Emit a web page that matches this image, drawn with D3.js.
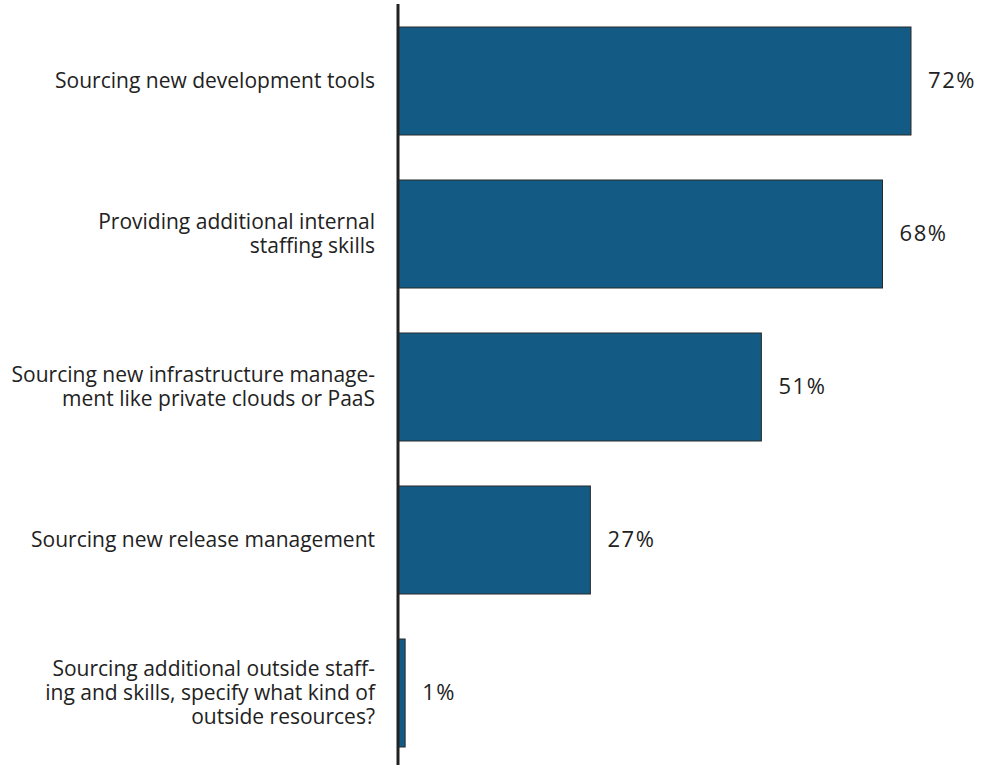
<!DOCTYPE html>
<html>
<head>
<meta charset="utf-8">
<script src="https://cdn.jsdelivr.net/npm/d3@7"></script>
<style>
  html, body { margin: 0; padding: 0; background: #ffffff; }
  svg { display: block; }
  text { font-family: "Open Sans", sans-serif; fill: #222222; }
</style>
</head>
<body>
<svg id="chart" width="982" height="765"></svg>
<script>
// Category labels, one entry per bar, split into display lines
const categories = [
  ["Sourcing new development tools"],
  ["Providing additional internal", "staffing skills"],
  ["Sourcing new infrastructure manage-", "ment like private clouds or PaaS"],
  ["Sourcing new release management"],
  ["Sourcing additional outside staff-", "ing and skills, specify what kind of", "outside resources?"]
];
// Share of respondents (%)
const values = [72, 68, 51, 27, 1];

const svg = d3.select("#chart");
const axisX = 398;

const x = d3.scaleLinear().domain([0, 100]).range([axisX, axisX + 712.5]);
const y = d3.scaleBand()
  .domain(d3.range(values.length))
  .range([4.5, 769.5])
  .paddingInner(0.294)
  .paddingOuter(0.147);

// Bars
svg.append("g").selectAll("rect")
  .data(values)
  .join("rect")
  .attr("x", x(0))
  .attr("y", (d, i) => y(i))
  .attr("width", d => x(d) - x(0))
  .attr("height", y.bandwidth())
  .attr("fill", "#135a85")
  .attr("stroke", "#2b2b2b")
  .attr("stroke-width", 1);

// Value labels
svg.append("g").selectAll("text")
  .data(values)
  .join("text")
  .attr("x", d => x(d) + 17)
  .attr("y", (d, i) => y(i) + y.bandwidth() / 2)
  .attr("dy", "0.3em")
  .attr("font-size", 22)
  .attr("letter-spacing", 1.6)
  .text(d => d + "%");

// Category labels, right-aligned against the axis
const lineH = 24;
const labels = svg.append("g").selectAll("text")
  .data(categories)
  .join("text")
  .attr("text-anchor", "end")
  .attr("font-size", 21)
  .attr("y", (d, i) => y(i) + y.bandwidth() / 2 - (d.length - 1) * lineH / 2);
labels.selectAll("tspan")
  .data(d => d)
  .join("tspan")
  .attr("x", 375)
  .attr("dy", (d, j) => j === 0 ? "0.35em" : lineH)
  .text(d => d);

// Vertical axis line
svg.append("line")
  .attr("x1", axisX).attr("x2", axisX)
  .attr("y1", 4).attr("y2", 765)
  .attr("stroke", "#222222")
  .attr("stroke-width", 3);
</script>
</body>
</html>
